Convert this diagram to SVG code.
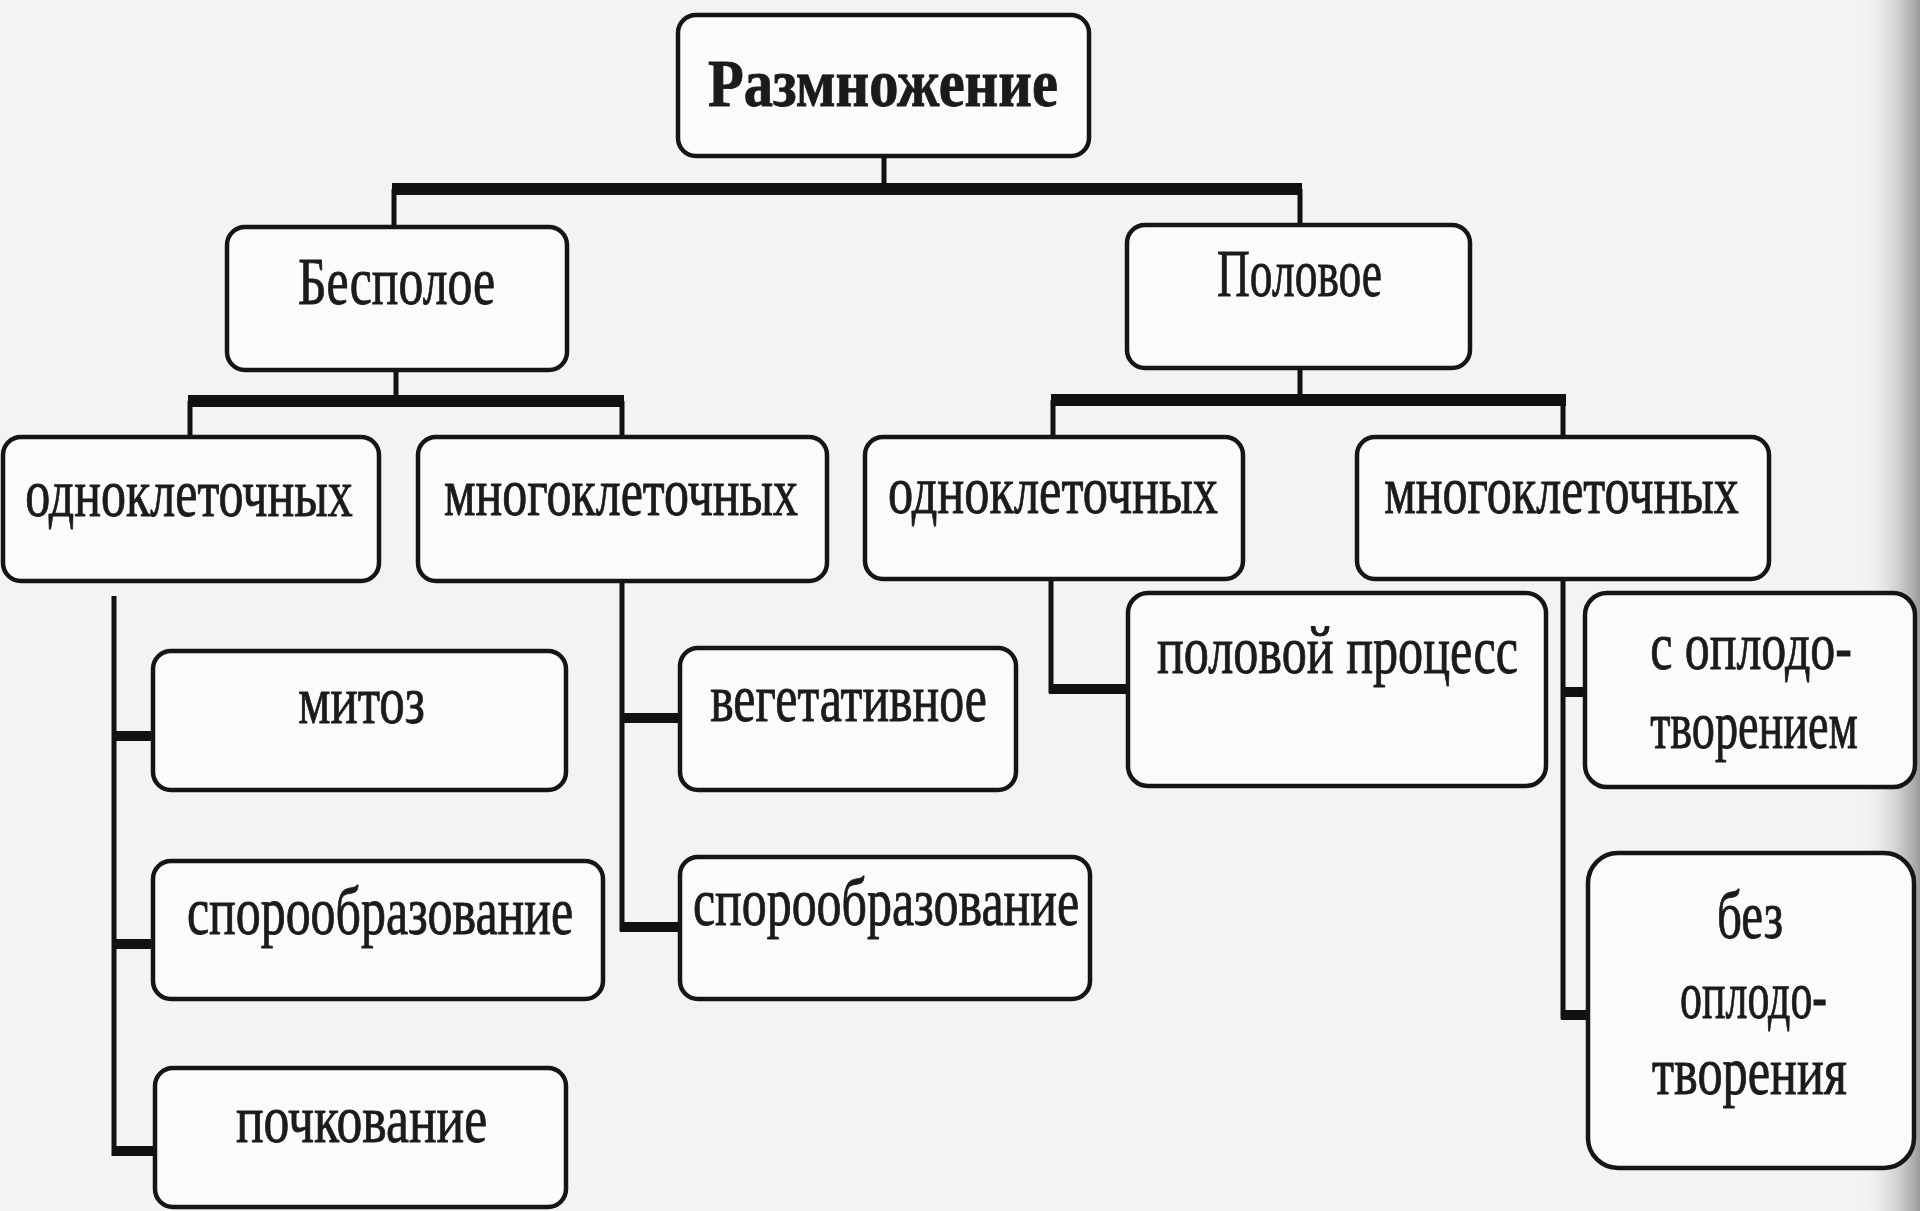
<svg xmlns="http://www.w3.org/2000/svg" width="1920" height="1211" viewBox="0 0 1920 1211">
<defs>
<linearGradient id="edge" x1="0" y1="0" x2="1" y2="0">
<stop offset="0" stop-color="#f2f2f0" stop-opacity="0"/>
<stop offset="1" stop-color="#9a9a98" stop-opacity="1"/>
</linearGradient>
</defs>
<style>
.box{fill:#fbfbfa;stroke:#151515;stroke-width:4.5}
.t{font-family:"Liberation Serif","Times New Roman",serif;font-size:68px;fill:#1b1b1b;stroke:#1b1b1b;stroke-width:0.9;text-anchor:middle}
.thin{stroke:#111;stroke-width:5;fill:none}
.bar{stroke:#111;stroke-width:12;fill:none}
.br{stroke:#111;stroke-width:10;fill:none}
</style>
<rect x="0" y="0" width="1920" height="1211" fill="#f3f3f1"/>
<rect x="1860" y="0" width="60" height="1211" fill="url(#edge)"/>

<g id="connectors">
<line class="thin" x1="884" y1="155" x2="884" y2="188"/>
<line class="bar" x1="392" y1="189" x2="1302" y2="189"/>
<line class="thin" x1="394" y1="189" x2="394" y2="228"/>
<line class="thin" x1="1300" y1="189" x2="1300" y2="226"/>

<line class="thin" x1="396" y1="369" x2="396" y2="400"/>
<line class="bar" x1="188" y1="401" x2="624" y2="401"/>
<line class="thin" x1="190" y1="401" x2="190" y2="438"/>
<line class="thin" x1="622" y1="401" x2="622" y2="438"/>

<line class="thin" x1="1300" y1="367" x2="1300" y2="400"/>
<line class="bar" x1="1051" y1="400" x2="1566" y2="400"/>
<line class="thin" x1="1053" y1="400" x2="1053" y2="438"/>
<line class="thin" x1="1563" y1="400" x2="1563" y2="438"/>

<line class="thin" x1="114" y1="596" x2="114" y2="1156"/>
<line class="br" x1="112" y1="736" x2="155" y2="736"/>
<line class="br" x1="112" y1="944" x2="155" y2="944"/>
<line class="br" x1="112" y1="1151" x2="157" y2="1151"/>

<line class="thin" x1="622" y1="580" x2="622" y2="931"/>
<line class="br" x1="620" y1="718" x2="682" y2="718"/>
<line class="br" x1="620" y1="927" x2="682" y2="927"/>

<line class="thin" x1="1051" y1="578" x2="1051" y2="693"/>
<line class="br" x1="1049" y1="689" x2="1130" y2="689"/>

<line class="thin" x1="1563" y1="578" x2="1563" y2="1019"/>
<line class="br" x1="1561" y1="692" x2="1587" y2="692"/>
<line class="br" x1="1561" y1="1015" x2="1590" y2="1015"/>
</g>

<g id="n-root"><rect class="box" x="678" y="15" width="411" height="141" rx="18"/>
<text class="t" transform="translate(883 106) scale(0.7 1)" font-size="88" font-weight="bold" textLength="500" lengthAdjust="spacingAndGlyphs">Размножение</text></g>

<g id="n-asexual"><rect class="box" x="227" y="227" width="340" height="143" rx="18"/>
<text class="t" transform="translate(396.5 304) scale(0.68 1)" font-size="78" textLength="290" lengthAdjust="spacingAndGlyphs">Бесполое</text></g>

<g id="n-sexual"><rect class="box" x="1127" y="225" width="343" height="143" rx="18"/>
<text class="t" transform="translate(1299.5 296) scale(0.66 1)" font-size="72" textLength="250" lengthAdjust="spacingAndGlyphs">Половое</text></g>

<g id="n-a-uni"><rect class="box" x="3" y="437" width="376" height="144" rx="18"/>
<text class="t" transform="translate(189 516) scale(0.75 1)" textLength="437" lengthAdjust="spacingAndGlyphs">одноклеточных</text></g>

<g id="n-a-multi"><rect class="box" x="418" y="437" width="409" height="144" rx="18"/>
<text class="t" transform="translate(621 515) scale(0.75 1)" textLength="472" lengthAdjust="spacingAndGlyphs">многоклеточных</text></g>

<g id="n-s-uni"><rect class="box" x="865" y="437" width="378" height="142" rx="18"/>
<text class="t" transform="translate(1053 513) scale(0.75 1)" textLength="440" lengthAdjust="spacingAndGlyphs">одноклеточных</text></g>

<g id="n-s-multi"><rect class="box" x="1357" y="437" width="412" height="142" rx="18"/>
<text class="t" transform="translate(1561.5 513) scale(0.75 1)" textLength="473" lengthAdjust="spacingAndGlyphs">многоклеточных</text></g>

<g id="n-mitosis"><rect class="box" x="153" y="651" width="413" height="139" rx="18"/>
<text class="t" transform="translate(361.5 723) scale(0.75 1)" textLength="169" lengthAdjust="spacingAndGlyphs">митоз</text></g>

<g id="n-spore1"><rect class="box" x="153" y="861" width="450" height="138" rx="18"/>
<text class="t" transform="translate(380 934) scale(0.75 1)" textLength="515" lengthAdjust="spacingAndGlyphs">спорообразование</text></g>

<g id="n-budding"><rect class="box" x="155" y="1068" width="411" height="139" rx="18"/>
<text class="t" transform="translate(361.5 1142) scale(0.75 1)" textLength="335" lengthAdjust="spacingAndGlyphs">почкование</text></g>

<g id="n-veget"><rect class="box" x="680" y="648" width="336" height="142" rx="18"/>
<text class="t" transform="translate(848.5 721) scale(0.75 1)" textLength="369" lengthAdjust="spacingAndGlyphs">вегетативное</text></g>

<g id="n-spore2"><rect class="box" x="680" y="857" width="410" height="142" rx="18"/>
<text class="t" transform="translate(886 925) scale(0.75 1)" textLength="515" lengthAdjust="spacingAndGlyphs">спорообразование</text></g>

<g id="n-sexproc"><rect class="box" x="1128" y="593" width="418" height="193" rx="20"/>
<text class="t" transform="translate(1337.5 673) scale(0.7 1)" font-size="72" textLength="516" lengthAdjust="spacingAndGlyphs">половой процесс</text></g>

<g id="n-with"><rect class="box" x="1585" y="593" width="330" height="194" rx="22"/>
<text class="t" transform="translate(1751 669) scale(0.75 1)" textLength="269" lengthAdjust="spacingAndGlyphs">с оплодо-</text>
<text class="t" transform="translate(1754 748) scale(0.75 1)" textLength="277" lengthAdjust="spacingAndGlyphs">творением</text></g>

<g id="n-without"><rect class="box" x="1588" y="853" width="326" height="315" rx="30"/>
<text class="t" transform="translate(1750 938) scale(0.75 1)" textLength="88" lengthAdjust="spacingAndGlyphs">без</text>
<text class="t" transform="translate(1753.5 1018) scale(0.75 1)" textLength="196" lengthAdjust="spacingAndGlyphs">оплодо-</text>
<text class="t" transform="translate(1749.5 1094) scale(0.75 1)" textLength="260" lengthAdjust="spacingAndGlyphs">творения</text></g>
</svg>
